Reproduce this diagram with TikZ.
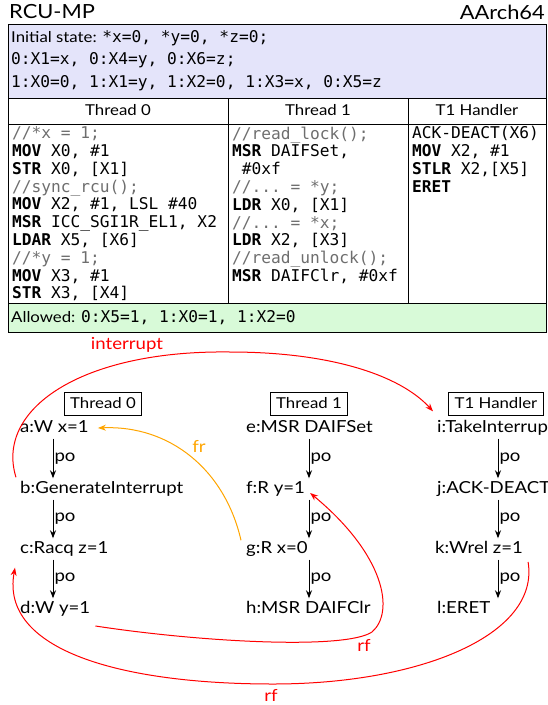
\documentclass[tikz,border=0pt]{standalone}
\usepackage{fontspec}
\setmainfont[FakeStretch=1.12]{Lato}
\setmonofont{DejaVu Sans Mono}
\usetikzlibrary{arrows.meta}
\definecolor{initblue}{RGB}{228,228,250}
\definecolor{allowgreen}{RGB}{216,250,216}
\definecolor{cmtgray}{RGB}{110,110,110}
\definecolor{frorange}{RGB}{255,165,0}
\newcommand{\cmt}[1]{{\color{cmtgray}#1}}
\newcommand{\ins}[1]{\textbf{#1}}
\begin{document}
\begin{tikzpicture}[x=1pt,y=-1pt,
  txt/.style={font=\fontsize{15}{17}\selectfont, inner sep=0pt, text height=11pt, text depth=3pt},
  ttl/.style={font=\fontsize{19.5}{22}\selectfont, inner sep=0pt},
  code/.style={font=\fontsize{16.2}{17.8}\selectfont\ttfamily, inner sep=0pt, align=left, anchor=north west},
  ev/.style={font=\fontsize{16.6}{18}\selectfont, inner sep=1pt, text height=11.5pt, text depth=3.5pt, anchor=west},
  thr/.style={draw, font=\fontsize{15}{17}\selectfont, inner xsep=6pt, inner ysep=4.5pt, text height=11pt, text depth=3pt, line width=0.7pt},
  po/.style={-{Stealth[length=8pt,width=6pt]}, line width=1pt},
  polbl/.style={font=\fontsize{16.6}{18}\selectfont, inner sep=1pt, anchor=west},
  rel/.style={-{Stealth[length=8pt,width=6pt]}, line width=1pt},
  rlbl/.style={font=\fontsize{16.6}{18}\selectfont, inner sep=0pt},
  frame/.style={line width=0.7pt}]
\useasboundingbox (0,0) rectangle (548,705);
% title
\node[ttl, anchor=west] (title) at (9,12) {RCU-MP};
\node[ttl, anchor=east] (arch) at (545,12) {AArch64};
% initial state
\draw[frame, fill=initblue] (8,24) rectangle (546,98);
\node[txt, anchor=west] (init1) at (11,38) {Initial state: {\ttfamily\fontsize{16.2}{18}\selectfont *x=0, *y=0, *z=0;}};
\node[txt, anchor=west] (init2) at (11,60.5) {\ttfamily\fontsize{16.2}{18}\selectfont 0:X1=x, 0:X4=y, 0:X6=z;};
\node[txt, anchor=west] (init3) at (11,83) {\ttfamily\fontsize{16.2}{18}\selectfont 1:X0=0, 1:X1=y, 1:X2=0, 1:X3=x, 0:X5=z};
% table
\draw[frame] (8,98) rectangle (546,303);
\draw[frame] (8,124) -- (546,124);
\draw[frame] (228,98) -- (228,303);
\draw[frame] (408,98) -- (408,303);
\node[txt] (h0) at (118,111) {Thread 0};
\node[txt] (h1) at (318,111) {Thread 1};
\node[txt] (h2) at (477,111) {T1 Handler};
\node[code] (c0) at (12,126.5) {\cmt{//*x = 1;}\\
\ins{MOV} X0, \#1\\
\ins{STR} X0, [X1]\\
\cmt{//sync\_rcu();}\\
\ins{MOV} X2, \#1, LSL \#40\\
\ins{MSR} ICC\_SGI1R\_EL1, X2\\
\ins{LDAR} X5, [X6]\\
\cmt{//*y = 1;}\\
\ins{MOV} X3, \#1\\
\ins{STR} X3, [X4]};
\node[code] (c1) at (232,126.5) {\cmt{//read\_lock();}\\
\ins{MSR} DAIFSet,\\
\ \#0xf\\
\cmt{//... = *y;}\\
\ins{LDR} X0, [X1]\\
\cmt{//... = *x;}\\
\ins{LDR} X2, [X3]\\
\cmt{//read\_unlock();}\\
\ins{MSR} DAIFClr, \#0xf};
\node[code] (c2) at (412,126.5) {ACK-DEACT(X6)\\
\ins{MOV} X2, \#1\\
\ins{STLR} X2,[X5]\\
\ins{ERET}};
% allowed
\draw[frame, fill=allowgreen] (8,303) rectangle (546,332);
\node[txt, anchor=west] (allowed) at (11,318) {Allowed: {\ttfamily\fontsize{16.2}{18}\selectfont 0:X5=1, 1:X0=1, 1:X2=0}};
% thread labels
\node[thr] (t0) at (103,404) {Thread 0};
\node[thr] (t1) at (309,404) {Thread 1};
\node[thr] (t2) at (496,404) {T1 Handler};
% events
\node[ev] (a) at (19,428) {a:W x=1};
\node[ev] (b) at (19,489) {b:GenerateInterrupt};
\node[ev] (c) at (19,549) {c:Racq z=1};
\node[ev] (d) at (19,609) {d:W y=1};
\node[ev] (e) at (245,428) {e:MSR DAIFSet};
\node[ev] (f) at (245,489) {f:R y=1};
\node[ev] (g) at (245,549) {g:R x=0};
\node[ev] (h) at (245,609) {h:MSR DAIFClr};
\node[ev] (i) at (436,428) {i:TakeInterrupt};
\node[ev] (j) at (436,489) {j:ACK-DEACT};
\node[ev] (k) at (434,549) {k:Wrel z=1};
\node[ev] (l) at (436,609) {l:ERET};
% po columns
\coordinate (x0) at (53,0);
\coordinate (x1) at (309,0);
\coordinate (x2) at (498,0);
\foreach \u/\v/\col in {a/b/x0,b/c/x0,c/d/x0,e/f/x1,f/g/x1,g/h/x1,i/j/x2,j/k/x2,k/l/x2}{
  \draw[po] ([yshift=-2pt]\u.south -| \col) -- ([yshift=2pt]\v.north -| \col)
    node[polbl, midway] {po};
}
% interrupt
\draw[rel, red] ([shift={(-3,-3)}]b.north west) .. controls (-5,410) and (80,350) .. (230,352)
  .. controls (330,352) and (400,375) .. ([shift={(-3,-8)}]i.north west);
\node[rlbl, text=red] (intl) at (127,345) {interrupt};
% fr
\draw[rel, frorange] ([xshift=-4pt]g.north west) .. controls (225,470) and (170,425) .. ([xshift=8pt]a.east);
\node[rlbl, text=frorange] (frl) at (199,446) {fr};
% rf d -> f
\draw[rel, red] ([shift={(4,17)}]d.east) .. controls (200,642) and (345,650) .. (372,632)
  .. controls (395,612) and (385,555) .. ([shift={(4,4)}]f.east);
\node[rlbl, text=red] (rfl1) at (364,645) {rf};
% rf k -> c
\draw[rel, red] ([shift={(4,13)}]k.east) .. controls (540,635) and (420,684) .. (273,684)
  .. controls (120,684) and (0,650) .. ([shift={(-4,10)}]c.south west);
\node[rlbl, text=red] (rfl2) at (271,695.5) {rf};
\end{tikzpicture}
\end{document}
